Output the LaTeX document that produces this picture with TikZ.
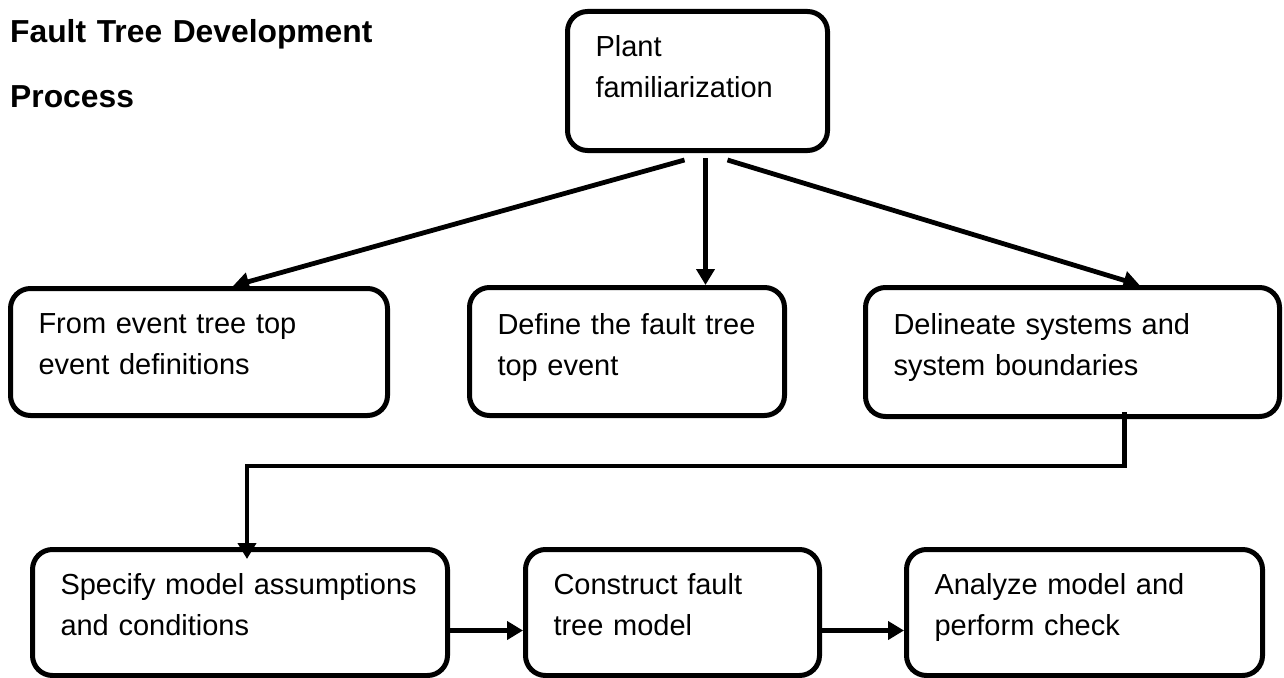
\documentclass[tikz,border=0pt]{standalone}
\usepackage{fontspec}
\setmainfont{Liberation Sans}
\usetikzlibrary{arrows.meta}

\newcommand{\stagefont}{\fontsize{29}{41}\selectfont}
\newcommand{\titlefont}{\fontsize{31.8}{64}\selectfont\bfseries}

\tikzset{
    stage/.style={draw, line width=5pt, rounded corners=20pt, anchor=north west,
        align=left, inner xsep=28pt, inner ysep=0pt, text height=45pt, font=\stagefont},
    flow/.style={line width=4.8pt, -{Triangle[length=16pt,width=18pt]}}
}

\begin{document}
\begin{tikzpicture}[x=1pt,y=-1pt]
    \useasboundingbox (0,0) rectangle (1284,677);

    %% Title
    \draw (10,43) node [anchor=base west, align=left, text width=420pt, inner sep=0pt, font=\titlefont] (title) {Fault Tree Development\\Process};

    %% Top of the process
    \draw (565,9) node [stage, text width=204pt, text depth=94pt] (plant) {Plant\\familiarization};

    %% Middle row
    \draw (8,286) node [stage, text width=321pt, text depth=82pt] (from) {From event tree top\\event definitions};
    \draw (467,285) node [stage, text width=259pt, text height=47pt, text depth=81pt] (define) {Define the fault tree\\top event};
    \draw (863,285) node [stage, text width=358pt, text height=47pt, text depth=82pt] (delineate) {Delineate systems and\\system boundaries};

    %% Bottom row
    \draw (30,547) node [stage, text width=359pt, text depth=81pt] (specify) {Specify model assumptions\\and conditions};
    \draw (523,547) node [stage, text width=238pt, text depth=81pt] (construct) {Construct fault\\tree model};
    \draw (904,547) node [stage, text width=300pt, text depth=81pt] (analyze) {Analyze model and\\perform check};

    %% Arrows out of plant familiarization
    \coordinate (drop) at ([xshift=8pt,yshift=-5pt]plant.south);
    \path [flow] ([xshift=-13pt,yshift=-7pt]plant.south) edge ([xshift=34pt]from.north);
    \path [flow] (drop) edge (drop |- define.north);
    \path [flow] ([xshift=30pt,yshift=-7pt]plant.south) edge ([xshift=67pt]delineate.north);

    %% Down to the model steps
    \coordinate (bend) at (247,466);
    \draw [flow, shorten >=-12pt] ([xshift=52pt,yshift=7pt]delineate.south) |- (bend) -- (bend |- specify.north);
    \path [flow] ([yshift=-18pt]specify.east) edge ([yshift=-18pt]construct.west);
    \path [flow] ([yshift=-18pt]construct.east) edge ([yshift=-18pt]analyze.west);
\end{tikzpicture}
\end{document}
